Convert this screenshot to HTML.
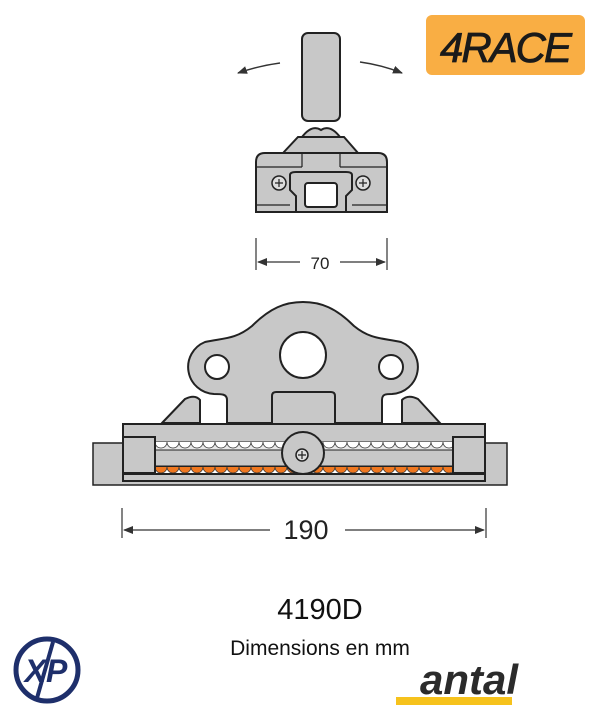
<!DOCTYPE html>
<html><head><style>body{margin:0;background:#fff}svg{display:block}</style></head><body>
<svg width="600" height="719" viewBox="0 0 600 719" xmlns="http://www.w3.org/2000/svg" font-family="Liberation Sans, sans-serif">
<defs>
<marker id="ah" markerWidth="10" markerHeight="8" refX="9" refY="4" orient="auto" markerUnits="userSpaceOnUse"><path d="M0,0 L10,4 L0,8 Z" fill="#333"/></marker>
<pattern id="balls" x="155" y="442" width="12" height="7" patternUnits="userSpaceOnUse"><path d="M0,0 A6,6 0 0 0 12,0" fill="#fff" stroke="#333" stroke-width="0.8"/></pattern>
<pattern id="oballs" x="155" y="467" width="12" height="7" patternUnits="userSpaceOnUse"><path d="M0,0 A6,6 0 0 0 12,0" fill="#f07820" stroke="#333" stroke-width="0.8"/></pattern>
</defs>
<!-- 4RACE logo -->
<rect x="426" y="15" width="159" height="60" rx="6" fill="#F9AE44"/>
<text x="505" y="62" text-anchor="middle" font-size="42" font-style="italic" fill="#1a1a1a" letter-spacing="-2" stroke="#1a1a1a" stroke-width="0.8">4RACE</text>
<!-- arrows -->
<path d="M280,63 Q258,66 238,73" fill="none" stroke="#333" stroke-width="1.5" marker-end="url(#ah)"/>
<path d="M360,62 Q382,65 402,73" fill="none" stroke="#333" stroke-width="1.5" marker-end="url(#ah)"/>
<!-- top view -->
<g stroke="#222" stroke-width="2" fill="#c8c8c8">
<rect x="302" y="33" width="38" height="88" rx="6"/>
<path d="M283,153 L298,137 L344,137 L358,153 Z"/>
<path d="M302,137 Q312,124 321,130 Q330,124 340,137 Z"/>
<path d="M256,162 Q256,153 265,153 L378,153 Q387,153 387,162 L387,212 L256,212 Z"/>
<path d="M290,175 Q290,172 296,172 L346,172 Q352,172 352,175 L352,190 L346,196 L346,212 L296,212 L296,196 L290,190 Z"/>
<rect x="305" y="183" width="32" height="24" rx="3" fill="#fff"/>
<circle cx="279" cy="183" r="7" fill="#ddd" stroke-width="1.5"/>
<circle cx="363" cy="183" r="7" fill="#ddd" stroke-width="1.5"/>
</g>
<g stroke="#222" stroke-width="1.2">
<path d="M302,153 V167 M340,153 V167 M256,167 H302 M340,167 H387 M256,205 H290 M352,205 H387"/>
<path d="M275,183 H283 M279,179 V187 M359,183 H367 M363,179 V187"/>
</g>
<!-- dim 70 -->
<g stroke="#333" stroke-width="1.2">
<path d="M256,238 V270 M387,238 V270"/>
<path d="M340,262 H385" marker-end="url(#ah)"/>
<path d="M300,262 H258" marker-end="url(#ah)"/>
</g>
<text x="320" y="269" text-anchor="middle" font-size="17" fill="#222">70</text>
<!-- side view -->
<g stroke="#222" stroke-width="2" fill="#c8c8c8">
<rect x="93" y="443" width="414" height="42" stroke-width="1.5"/>
<path d="M162,423 L185,399 Q195,394 200,400 L200,423 Z"/>
<path d="M440,423 L418,399 Q408,394 402,400 L402,423 Z"/>
<path d="M227,423 V400 C227,394 222,394 214,394 A27,27 0 0 1 205,342 C222,338 235,340 252,326 C270,308 285,302 303,302 C321,302 336,308 354,326 C371,340 384,338 401,342 A27,27 0 0 1 392,394 C386,394 382,394 382,400 V423 Z"/>
<path d="M272,423 V396 Q272,392 276,392 L331,392 Q335,392 335,396 V423" />
<circle cx="217" cy="367" r="12" fill="#fff"/>
<circle cx="391" cy="367" r="12" fill="#fff"/>
<circle cx="303" cy="355" r="23" fill="#fff"/>
<rect x="123" y="424" width="362" height="57"/>
<rect x="155" y="442" width="298" height="8" fill="#e8e8e8" stroke-width="1"/>
<rect x="155" y="442" width="298" height="7" fill="url(#balls)" stroke="none"/>
<rect x="155" y="467" width="298" height="7" fill="#fff" stroke-width="1"/>
<rect x="155" y="467" width="298" height="7" fill="url(#oballs)" stroke="none"/>
<rect x="155" y="450" width="298" height="16" fill="#c8c8c8" stroke-width="1"/>
<rect x="123" y="437" width="32" height="36"/>
<rect x="453" y="437" width="32" height="36"/>
<path d="M123,474 H485" fill="none"/>
<circle cx="303" cy="453" r="21"/>
<circle cx="302" cy="455" r="6" fill="#ddd" stroke-width="1.5"/>
<path d="M298,455 H306 M302,451 V459" stroke-width="1.2"/>
</g>
<!-- dim 190 -->
<g stroke="#333" stroke-width="1.2">
<path d="M122,508 V538 M486,508 V538"/>
<path d="M270,530 H124" marker-end="url(#ah)"/>
<path d="M345,530 H484" marker-end="url(#ah)"/>
</g>
<text x="306" y="539" text-anchor="middle" font-size="27" fill="#222">190</text>
<text x="320" y="619" text-anchor="middle" font-size="29" fill="#111">4190D</text>
<text x="320" y="655" text-anchor="middle" font-size="21" fill="#111">Dimensions en mm</text>
<!-- XP logo -->
<circle cx="47" cy="670" r="31" fill="none" stroke="#1e2f6b" stroke-width="5"/>
<text x="46" y="682" text-anchor="middle" font-size="32" font-weight="bold" font-style="italic" fill="#1e2f6b">XP</text>
<path d="M53,642 L37,698" stroke="#1e2f6b" stroke-width="4" fill="none"/>
<!-- antal -->
<text x="518" y="694" text-anchor="end" font-size="42" font-weight="bold" font-style="italic" fill="#2b2b2b">antal</text>
<rect x="396" y="697" width="116" height="8" fill="#F6C21C"/>
</svg>
</body></html>
